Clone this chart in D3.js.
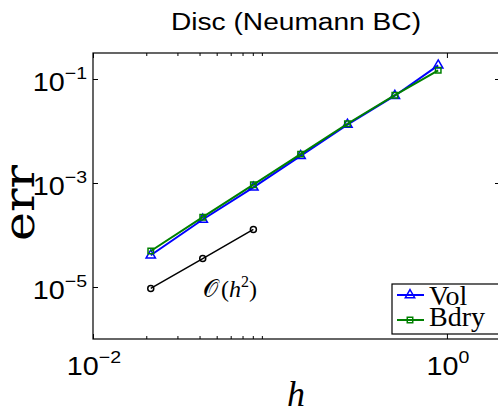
<!DOCTYPE html>
<html>
<head>
<meta charset="utf-8">
<script src="https://cdn.jsdelivr.net/npm/d3@7"></script>
<style>
  body { margin: 0; background: #fff; }
  svg { display: block; }
</style>
</head>
<body>
<div id="viz"></div>
<script>
// data
var hVals    = [0.0212, 0.0417, 0.0806, 0.149, 0.274, 0.508, 0.893];
var volErr   = [4.07e-5, 1.99e-4, 8.24e-4, 3.33e-3, 1.33e-2, 4.77e-2, 0.183];
var bdryErr  = [4.92e-5, 2.20e-4, 9.27e-4, 3.59e-3, 1.38e-2, 4.88e-2, 0.147];
var refH     = [0.0212, 0.0417, 0.0806];
var refErr   = [9.4e-6, 3.52e-5, 1.28e-4];
var xTicks   = [0.01, 1];
var xTickExp = ["\u22122", "0"];
var xMinor   = [0.02, 0.03, 0.04, 0.05, 0.06, 0.07, 0.08, 0.09];
var yTicks   = [1e-5, 1e-3, 1e-1];
var yTickExp = ["\u22125", "\u22123", "\u22121"];

var W = 498, H = 416;
// plot box edges (right edge sits just past the window)
var pL = 93, pT = 53, pR = 500, pB = 339;

var svg = d3.select("#viz").append("svg")
    .attr("width", W).attr("height", H);

var x = d3.scaleLog().domain([0.01, Math.pow(10, 0.3)]).range([pL, pR]);
var y = d3.scaleLog().domain([1e-6, Math.pow(10, -0.5)]).range([pB, pT]);

// box
svg.append("rect")
    .attr("x", pL).attr("y", pT)
    .attr("width", pR - pL).attr("height", pB - pT)
    .attr("fill", "none").attr("stroke", "#000").attr("stroke-width", 1.2);

// ticks (inward, on all four sides)
function noLabel() { return ""; }
svg.append("g").attr("transform", "translate(0," + pB + ")")
  .call(d3.axisBottom(x).tickValues(xTicks).tickSize(-5).tickFormat(noLabel));
svg.append("g").attr("transform", "translate(0," + pB + ")")
  .call(d3.axisBottom(x).tickValues(xMinor).tickSize(-3).tickFormat(noLabel));
svg.append("g").attr("transform", "translate(0," + pT + ")")
  .call(d3.axisTop(x).tickValues(xTicks).tickSize(-5).tickFormat(noLabel));
svg.append("g").attr("transform", "translate(0," + pT + ")")
  .call(d3.axisTop(x).tickValues(xMinor).tickSize(-3).tickFormat(noLabel));
svg.append("g").attr("transform", "translate(" + pL + ",0)")
  .call(d3.axisLeft(y).tickValues(yTicks).tickSize(-5).tickFormat(noLabel));
svg.append("g").attr("transform", "translate(" + pR + ",0)")
  .call(d3.axisRight(y).tickValues(yTicks).tickSize(-5).tickFormat(noLabel));
svg.selectAll(".domain").remove();
svg.selectAll(".tick line").attr("stroke", "#000").attr("stroke-width", 1);

// tick labels 10^n, slightly stretched like the original
function powLabel(px, py, exp, anchor) {
  var g = svg.append("g").attr("transform", "translate(" + px + "," + py + ") scale(1.15,1)");
  var t = g.append("text")
      .attr("text-anchor", anchor)
      .style("font-family", "Liberation Sans, Arial, sans-serif")
      .style("font-size", "25px")
      .attr("fill", "#000");
  t.append("tspan").text("10");
  t.append("tspan").attr("dy", -12).style("font-size", "17px").text(exp);
}
yTicks.forEach(function(v, i) { powLabel(87, y(v) + 11.5, yTickExp[i], "end"); });
xTicks.forEach(function(v, i) { powLabel(x(v) + 1, 375, xTickExp[i], "middle"); });

// lines
var line = d3.line().x(function(d) { return x(d[0]); }).y(function(d) { return y(d[1]); });
var volData  = hVals.map(function(h, i) { return [h, volErr[i]]; });
var bdryData = hVals.map(function(h, i) { return [h, bdryErr[i]]; });
var refData  = refH.map(function(h, i) { return [h, refErr[i]]; });

var tri = d3.symbol().type(d3.symbolTriangle).size(38);
var sq  = d3.symbol().type(d3.symbolSquare).size(30);

svg.append("path").datum(volData).attr("d", line)
    .attr("fill", "none").attr("stroke", "#0000ff").attr("stroke-width", 2);
svg.append("g").selectAll("path").data(volData).enter().append("path")
    .attr("d", tri)
    .attr("transform", function(d) { return "translate(" + x(d[0]) + "," + y(d[1]) + ")"; })
    .attr("fill", "none").attr("stroke", "#0000ff").attr("stroke-width", 1.5);

svg.append("path").datum(bdryData).attr("d", line)
    .attr("fill", "none").attr("stroke", "#008000").attr("stroke-width", 2);
svg.append("g").selectAll("path").data(bdryData).enter().append("path")
    .attr("d", sq)
    .attr("transform", function(d) { return "translate(" + x(d[0]) + "," + y(d[1]) + ")"; })
    .attr("fill", "none").attr("stroke", "#008000").attr("stroke-width", 1.5);

svg.append("path").datum(refData).attr("d", line)
    .attr("fill", "none").attr("stroke", "#000").attr("stroke-width", 1.5);
svg.append("g").selectAll("circle").data(refData).enter().append("circle")
    .attr("cx", function(d) { return x(d[0]); })
    .attr("cy", function(d) { return y(d[1]); })
    .attr("r", 3).attr("fill", "none").attr("stroke", "#000").attr("stroke-width", 1.5);

// O(h^2) annotation
var ann = svg.append("text").attr("x", 203).attr("y", 297)
    .style("font-family", "Liberation Serif, Times New Roman, serif")
    .style("font-size", "24px").attr("fill", "#000");
ann.append("tspan").text("\uD835\uDCAA");
ann.append("tspan").attr("dx", 3).text("(");
ann.append("tspan").style("font-style", "italic").text("h");
ann.append("tspan").attr("dy", -10).style("font-size", "16px").text("2");
ann.append("tspan").attr("dy", 10).text(")");

// legend
svg.append("rect").attr("x", 392).attr("y", 284).attr("width", 110).attr("height", 50)
    .attr("fill", "#fff").attr("stroke", "#000").attr("stroke-width", 1.2);
var legend = [
  {name: "Vol",  color: "#0000ff", sym: tri, ly: 295, ty: 305},
  {name: "Bdry", color: "#008000", sym: sq,  ly: 320, ty: 326}
];
legend.forEach(function(L) {
  svg.append("line").attr("x1", 397).attr("x2", 424).attr("y1", L.ly).attr("y2", L.ly)
      .attr("stroke", L.color).attr("stroke-width", 2);
  svg.append("path").attr("d", L.sym).attr("transform", "translate(410," + L.ly + ")")
      .attr("fill", "none").attr("stroke", L.color).attr("stroke-width", 1.5);
  svg.append("text").attr("x", 429).attr("y", L.ty)
      .style("font-family", "Liberation Serif, Times New Roman, serif")
      .style("font-size", "28px").attr("fill", "#000").text(L.name);
});

// title and axis labels
svg.append("text").attr("x", 296).attr("y", 30).attr("text-anchor", "middle")
    .attr("textLength", 250).attr("lengthAdjust", "spacingAndGlyphs")
    .style("font-family", "Liberation Sans, Arial, sans-serif")
    .style("font-size", "23px").attr("fill", "#000")
    .text("Disc (Neumann BC)");

svg.append("text")
    .attr("transform", "translate(34,203) rotate(-90)")
    .attr("text-anchor", "middle")
    .attr("textLength", 76).attr("lengthAdjust", "spacingAndGlyphs")
    .style("font-family", "DejaVu Serif, serif")
    .style("font-size", "42px").attr("fill", "#000")
    .text("err");

svg.append("text").attr("x", 296).attr("y", 406).attr("text-anchor", "middle")
    .style("font-family", "Liberation Serif, Times New Roman, serif")
    .style("font-style", "italic")
    .style("font-size", "36px").attr("fill", "#000")
    .text("h");
</script>
</body>
</html>
